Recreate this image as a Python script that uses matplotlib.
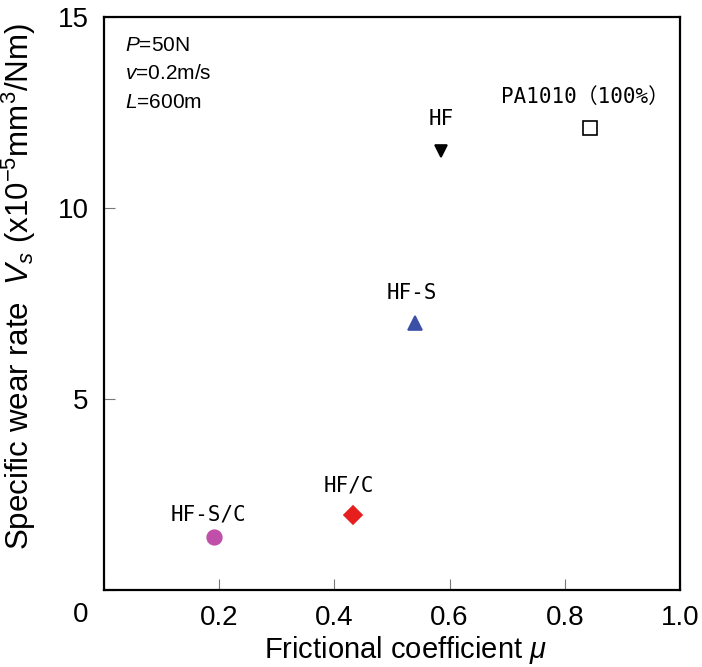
import matplotlib
matplotlib.use("Agg")
import matplotlib.pyplot as plt

# Sample names and their measured values
samples = ["PA1010（100%）", "HF", "HF-S", "HF/C", "HF-S/C"]
mu = [0.844, 0.585, 0.540, 0.432, 0.191]
wear = [12.1, 11.5, 7.0, 1.96, 1.39]

markers = ["s", "v", "^", "D", "o"]
colors = ["white", "black", "#3b4fa6", "#e61e1e", "#bf4fa9"]
sizes = [10, 9, 9.5, 9, 10.5]

x_ticks = [0, 0.2, 0.4, 0.6, 0.8, 1.0]
x_ticklabels = ["", "0.2", "0.4", "0.6", "0.8", "1.0"]
y_ticks = [0, 5, 10, 15]
y_ticklabels = ["", "5", "10", "15"]

conditions = ["$P$=50N", "$v$=0.2m/s", "$L$=600m"]

plt.rcParams["font.family"] = ["Liberation Sans", "DejaVu Sans"]
plt.rcParams["mathtext.fontset"] = "custom"
plt.rcParams["mathtext.rm"] = "Liberation Sans"
plt.rcParams["mathtext.it"] = "Liberation Sans:italic"

fig = plt.figure(figsize=(7.02, 6.67), dpi=100)
ax = fig.add_axes([0.148, 0.1154, 0.8207, 0.8591])

for m, w, mk, c, s in zip(mu, wear, markers, colors, sizes):
    ax.plot(m, w, marker=mk, color=c, markersize=s, linestyle="none",
            markeredgecolor="black" if c == "white" else c, markeredgewidth=1.2)

# point labels, offset from each marker (points)
label_font = ["DejaVu Sans Mono", "Noto Sans CJK JP"]
offsets = [(-4, 22), (0, 23), (-2, 21), (-3, 21.5), (-4, 16)]
for name, m, w, off in zip(samples, mu, wear, offsets):
    ax.annotate(name, (m, w), xytext=off, textcoords="offset points",
                ha="center", va="center", fontsize=15, family=label_font)

ax.set_xlim(0, 1.0)
ax.set_ylim(0, 15)
ax.set_xticks(x_ticks)
ax.set_xticklabels(x_ticklabels)
ax.set_yticks(y_ticks)
ax.set_yticklabels(y_ticklabels)
ax.tick_params(direction="in", length=8, width=0.8, color="#777777",
               labelsize=20, pad=11)
for sp in ax.spines.values():
    sp.set_linewidth(1.6)

# shared origin label
ax.text(-0.04, -0.65, "0", fontsize=20, ha="center", va="center", clip_on=False)

for i, txt in enumerate(conditions):
    ax.text(0.037, 0.951 - i * 0.05, txt, transform=ax.transAxes,
            fontsize=15, ha="left", va="center")

ax.set_xlabel(r"Frictional coefficient $\mu$", fontsize=21)
ax.xaxis.set_label_coords(0.524, -0.076)
ax.set_ylabel(r"Specific wear rate  $V_s$ (x10$^{-5}$mm$^3$/Nm)", fontsize=22.5)
ax.yaxis.set_label_coords(-0.114, 0.53)

fig.savefig("out.png", dpi=100)
